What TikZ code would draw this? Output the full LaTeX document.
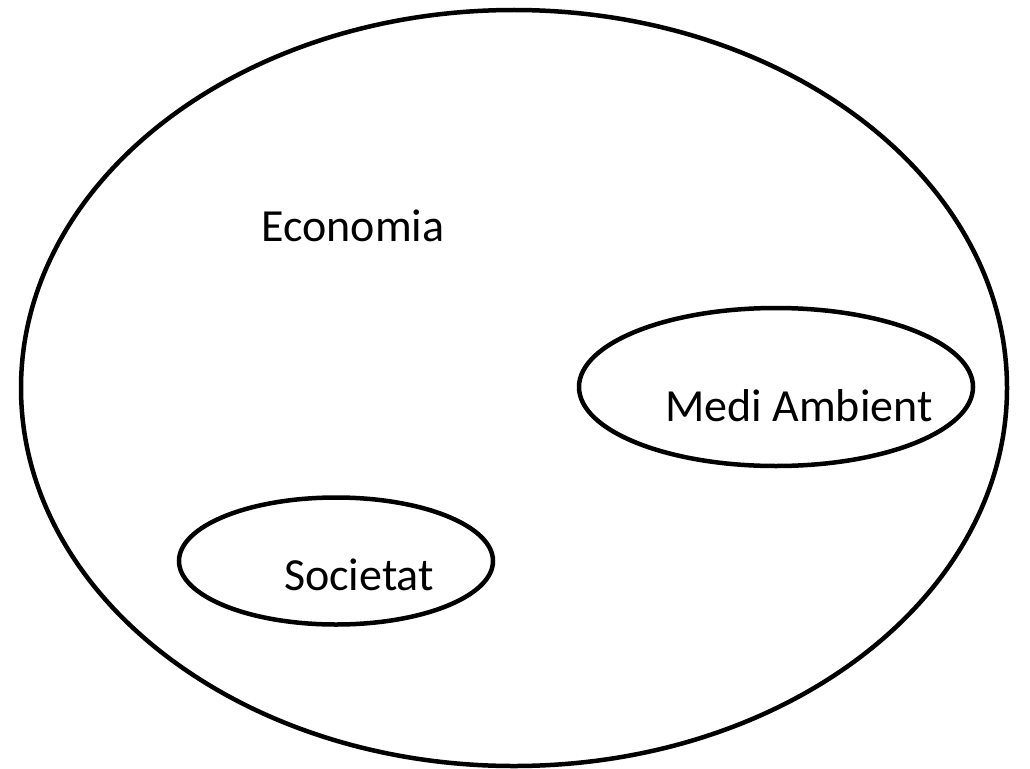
\documentclass[tikz,border=0pt]{standalone}
\usepackage{fontspec}
\setmainfont{Carlito}
\usepackage{tikz}
\usetikzlibrary{shapes.geometric}

\begin{document}
\begin{tikzpicture}[x=1pt,y=-1pt]
		\useasboundingbox (0,0) rectangle (1030,768);
		\tikzstyle{every node}+=[inner sep=0pt,outer sep=0pt]
		\tikzstyle{zone}=[draw,ellipse,line width=4.5pt]
		\tikzstyle{lbl}=[anchor=base,font=\fontsize{46}{55}\selectfont]
		\node[zone,minimum width=986,minimum height=756] (eco) at (514,388) {};
		\node[zone,minimum width=394,minimum height=158] (med) at (776,387) {};
		\node[zone,minimum width=314,minimum height=127] (soc) at (336,561) {};
		\node[lbl] (ecot) at (353,241) {Economia};
		\node[lbl] (medt) at (799,421) {Medi Ambient};
		\node[lbl] (soct) at (359,590) {Societat};
	\end{tikzpicture}
\end{document}
